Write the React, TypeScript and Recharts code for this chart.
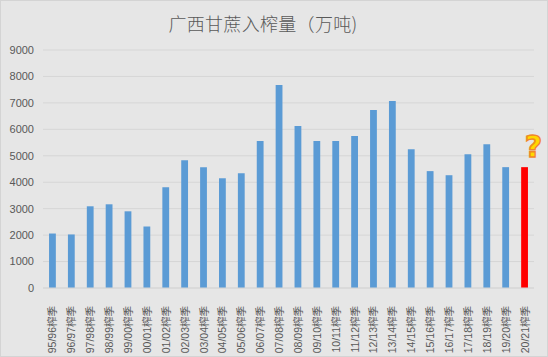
import { BarChart, Bar, XAxis, YAxis, CartesianGrid, Cell, LabelList } from "recharts";

const seasons = [
  "95/96榨季", "96/97榨季", "97/98榨季", "98/99榨季", "99/00榨季", "00/01榨季",
  "01/02榨季", "02/03榨季", "03/04榨季", "04/05榨季", "05/06榨季", "06/07榨季",
  "07/08榨季", "08/09榨季", "09/10榨季", "10/11榨季", "11/12榨季", "12/13榨季",
  "13/14榨季", "14/15榨季", "15/16榨季", "16/17榨季", "17/18榨季", "18/19榨季",
  "19/20榨季", "20/21榨季",
];

const crushed = [
  2060, 2025, 3090, 3165, 2900, 2330, 3810, 4835, 4570, 4150, 4340, 5560,
  7680, 6125, 5560, 5560, 5750, 6730, 7075, 5250, 4420, 4265, 5060, 5440,
  4570, 4570,
];

const yTicks = [0, 1000, 2000, 3000, 4000, 5000, 6000, 7000, 8000, 9000];

const data = seasons.map((season, i) => ({ season, value: crushed[i] }));

const lastIndex = seasons.length - 1;

const SeasonTick = (props: any) => {
  const { x, y, payload } = props;
  return (
    <text
      transform={`translate(${x},${y + 10}) rotate(-90)`}
      textAnchor="end"
      dominantBaseline="central"
      fill="#595959"
      fontSize={10.5}
      fontFamily="'Liberation Sans', 'Noto Sans CJK SC', sans-serif"
    >
      {payload.value}
    </text>
  );
};

const QuestionMark = (props: any) => {
  const { x, y, width, index } = props;
  if (index !== lastIndex) return null;
  return (
    <text
      x={x + width / 2 + 9}
      y={y - 10}
      textAnchor="middle"
      fontSize={30}
      fontWeight="bold"
      fontFamily="'DejaVu Sans', sans-serif"
      fill="#ffd800"
      stroke="#f0882a"
      strokeWidth={1.5}
    >
      ?
    </text>
  );
};

export default function App() {
  return (
    <div
      style={{
        position: "fixed",
        left: 0,
        top: 0,
        width: 548,
        height: 357,
        background: "#e6e6e6",
        border: "1px solid #d4d4d4",
        boxSizing: "border-box",
      }}
    >
      <div
        style={{
          position: "absolute",
          left: 0,
          top: 9,
          width: 524,
          textAlign: "center",
          fontFamily: "'Noto Sans CJK SC', sans-serif",
          fontWeight: 300,
          fontSize: 18,
          color: "#595959",
          letterSpacing: 0.3,
        }}
      >
        广西甘蔗入榨量（万吨)
      </div>
      <BarChart
        width={546}
        height={355}
        data={data}
        margin={{ top: 49, right: 13, left: 0, bottom: 0 }}
        barCategoryGap="68%"
        style={{ position: "absolute", left: 0, top: 0 }}
      >
        <CartesianGrid vertical={false} stroke="#d6d6d6" />
        <XAxis
          dataKey="season"
          interval={0}
          height={68}
          axisLine={{ stroke: "#d6d6d6" }}
          tickLine={false}
          tick={<SeasonTick />}
        />
        <YAxis
          domain={[0, 9000]}
          ticks={yTicks}
          width={42}
          axisLine={false}
          tickLine={false}
          tickMargin={3}
          tick={{ fill: "#595959", fontSize: 11, fontFamily: "'Liberation Sans', sans-serif" }}
        />
        <Bar dataKey="value" isAnimationActive={false}>
          {data.map((d, i) => (
            <Cell key={d.season} fill={i === lastIndex ? "#ff0000" : "#5b9bd5"} />
          ))}
          <LabelList dataKey="value" content={<QuestionMark />} />
        </Bar>
      </BarChart>
    </div>
  );
}
